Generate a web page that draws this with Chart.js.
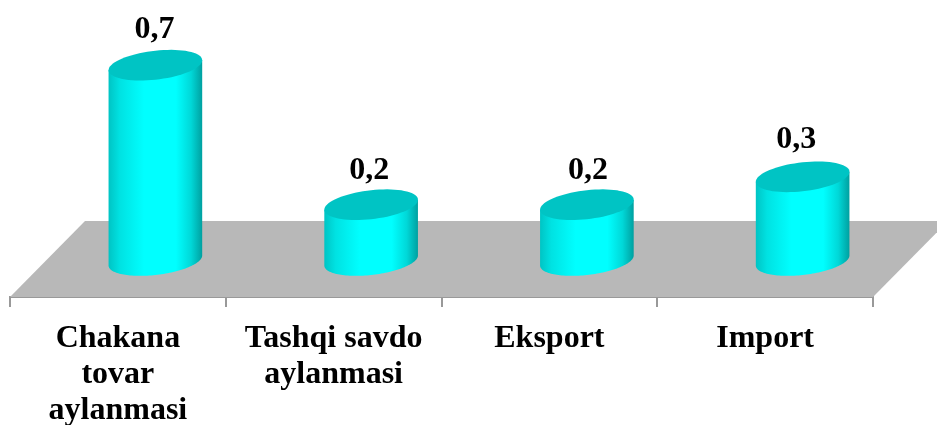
<!DOCTYPE html>
<html><head><meta charset="utf-8">
<style>html,body{margin:0;padding:0;background:#fff}canvas{display:block}</style>
<script src="https://cdn.jsdelivr.net/npm/chart.js@4"></script></head>
<body><canvas id="c" width="937" height="425"></canvas>
<script>
const categories = [["Chakana","tovar","aylanmasi"],["Tashqi savdo","aylanmasi"],["Eksport"],["Import"]];
const values = [0.7,0.2,0.2,0.3];
const valueLabels = ["0,7","0,2","0,2","0,3"];
const FONT = '"Liberation Serif","Times New Roman",serif';
const DX = 75, DY = 76;
const nudgeX = [-0.5,-1.5,1.5,-6], nudgeY = [-0.5,1.5,1.5,-2];
const floorPlugin = {id:'floor',beforeDatasetsDraw(ch){
  const a=ch.chartArea,c=ch.ctx;c.save();c.fillStyle='#b8b8b8';c.beginPath();
  c.moveTo(a.left,a.bottom);c.lineTo(a.left+DX,a.bottom-DY);c.lineTo(a.right+DX,a.bottom-DY);c.lineTo(a.right,a.bottom);c.closePath();c.fill();c.restore();
}};
function rim(c,cx,cy,A,B,k,from,to){
  const S=72;
  for(let j=0;j<=S;j++){
    const t=from+(to-from)*j/S,u=Math.cos(t),v=Math.sin(t);
    c.lineTo(cx+A*u,cy+B*v+k*u);
  }
}
const cylPlugin = {id:'cyl',afterDatasetsDraw(ch){
  const c=ch.ctx;
  ch.getDatasetMeta(0).data.forEach((el,i)=>{
    const cx=el.x+DX/2, yT=el.y-36.5, yB=el.base-36.5, A=el.width/2, B=el.width/2*0.31, k=-5;
    c.save();
    const g=c.createLinearGradient(cx-A,0,cx+A,0);
    g.addColorStop(0,'#00c4c4');g.addColorStop(0.12,'#00e2e2');g.addColorStop(0.38,'#00ffff');
    g.addColorStop(0.72,'#00ffff');g.addColorStop(0.88,'#00d8d8');g.addColorStop(1,'#00a0a0');
    c.fillStyle=g;c.beginPath();
    rim(c,cx,yB,A,B,k,0,Math.PI);
    c.lineTo(cx-A,yT-k);
    c.lineTo(cx+A,yT+k);
    c.closePath();c.fill();
    c.fillStyle='#00c4c4';c.beginPath();rim(c,cx,yT,A,B,k,0,Math.PI*2);c.closePath();c.fill();
    c.fillStyle='#000';c.font='bold 32px '+FONT;c.textAlign='center';c.textBaseline='alphabetic';
    c.fillText(valueLabels[i],cx-0.5+nudgeX[i],yT-27+nudgeY[i]);
    c.restore();
  });
}};
new Chart(document.getElementById('c'),{
  type:'bar',
  data:{labels:categories,datasets:[{data:values,backgroundColor:'rgba(0,0,0,0)',borderWidth:0,barPercentage:0.434,categoryPercentage:1}]},
  plugins:[floorPlugin,cylPlugin],
  options:{responsive:false,animation:false,devicePixelRatio:1,
    layout:{padding:{left:10,right:64,top:18,bottom:0}},
    plugins:{legend:{display:false},tooltip:{enabled:false}},
    scales:{
      y:{display:false,min:0,max:1},
      x:{offset:true,
        afterFit(s){s.height=128;},
        border:{color:'#999',width:2},
        grid:{drawOnChartArea:false,drawTicks:true,tickLength:10,color:'#999',lineWidth:2},
        ticks:{color:'#000',maxRotation:0,minRotation:0,autoSkip:false,padding:13,font:{family:FONT,weight:'bold',size:32,lineHeight:1.14}}
      }
    }
  }
});
</script></body></html>
